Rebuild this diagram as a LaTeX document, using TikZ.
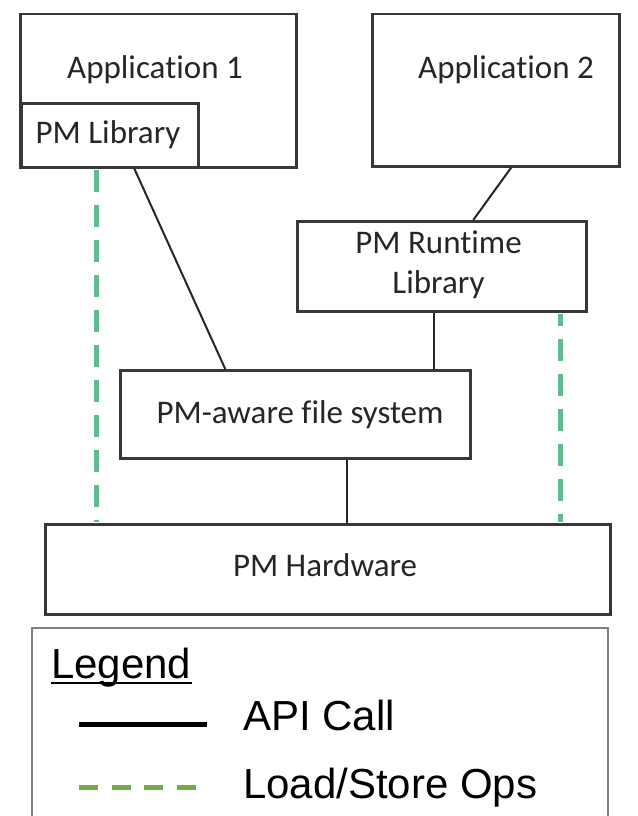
\documentclass[tikz,border=0pt]{standalone}
\usepackage{fontspec}
\setmainfont{Carlito}[RawFeature={-liga;-clig;-calt;-dlig}]
\newfontfamily\arialf{Liberation Sans}
\definecolor{lsgreen}{RGB}{96,188,140}
\definecolor{leggreen}{RGB}{112,173,71}
\begin{document}
\begin{tikzpicture}[x=1pt,y=-1pt,
  box/.style={draw=black!78, line width=2.5pt, fill=white, inner sep=0pt, anchor=north west},
  lbl/.style={anchor=base, inner sep=0pt, font=\fontsize{33}{40}\selectfont, text=black!85},
  legtext/.style={anchor=base west, inner sep=0pt, font=\arialf\fontsize{42}{50}\selectfont},
  api/.style={line width=2pt, draw=black!85},
  lsline/.style={line width=5pt, draw=lsgreen, dash pattern=on 22pt off 13pt}]
\useasboundingbox (0,0) rectangle (637,816);
\fill[white] (0,0) rectangle (637,816);
% boxes
\node[box, minimum width=276pt, minimum height=153pt] (app1) at (19,13) {};
\node[box, minimum width=177pt, minimum height=64pt] (lib) at (20,102) {};
\node[box, minimum width=247pt, minimum height=152pt] (app2) at (371,13) {};
\node[box, minimum width=289pt, minimum height=90pt] (rt) at (296,220) {};
\node[box, minimum width=350pt, minimum height=88pt] (fs) at (119,369) {};
\node[box, minimum width=565pt, minimum height=90pt] (hw) at (44,523) {};
% texts
\node[lbl] (t1) at (155,78) {Application 1};
\node[lbl] (t2) at (506,78) {Application 2};
\node[lbl] (t3) at (108,143) {PM Library};
\node[lbl] (t4) at (438.5,253) {PM Runtime};
\node[lbl] (t5) at (438.5,293) {Library};
\node[lbl] (t6) at (300,423) {PM-aware file system};
\node[lbl] (t7) at (325,576) {PM Hardware};
% API connectors
\draw[api] ([xshift=24.5pt]lib.south) -- ([xshift=-70pt]fs.north);
\draw[api] ([xshift=15.5pt]app2.south) -- ([xshift=31.5pt]rt.north);
\draw[api] ([xshift=-7.5pt]rt.south) -- ([xshift=139pt]fs.north);
\draw[api] ([xshift=52pt]fs.south) -- ([xshift=19.5pt]hw.north);
% load/store connectors
\draw[lsline] ([xshift=-13.5pt,yshift=-1.5pt]lib.south) -- ([xshift=-231.5pt,yshift=1.5pt]hw.north);
\draw[lsline, dash phase=10pt] ([xshift=118.5pt,yshift=-1.5pt]rt.south) -- ([xshift=232.5pt,yshift=1.5pt]hw.north);
% legend
\node[draw=black!50, line width=2pt, anchor=north west, inner sep=0pt, minimum width=576pt, minimum height=230pt] (leg) at (31,627) {};
\node[legtext] (legt) at (51,678) {Legend};
\draw[line width=2pt] ([yshift=-5pt]legt.base west) -- ([yshift=-5pt]legt.base east);
\node[legtext] (apit) at (243,730) {API Call};
\node[legtext] (lst) at (243,798) {Load/Store Ops};
\coordinate (a1) at (79,724);
\coordinate (a2) at (207,724);
\coordinate (l1) at (79,787);
\coordinate (l2) at (197,787);
\draw[line width=5pt] (a1) -- (a2);
\draw[line width=5pt, draw=leggreen, dash pattern=on 19pt off 13.5pt] (l1) -- (l2);
\end{tikzpicture}
\end{document}
